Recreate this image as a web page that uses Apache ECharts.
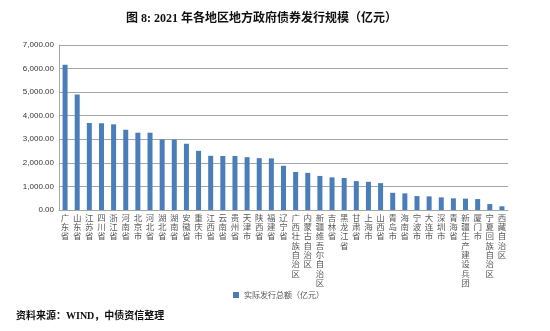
<!DOCTYPE html>
<html><head><meta charset="utf-8">
<script src="https://cdn.jsdelivr.net/npm/echarts@6/dist/echarts.min.js"></script>
<style>html,body{margin:0;padding:0;background:#fff}#c{width:550px;height:331px}</style>
</head><body><div id="c"></div>
<script>
var categories = ['广东省','山东省','江苏省','四川省','浙江省','河南省','北京市','河北省','湖北省','湖南省','安徽省','重庆市','江西省','云南省','贵州省','天津市','陕西省','福建省','辽宁省','广西壮族自治区','内蒙古自治区','新疆维吾尔自治区','吉林省','黑龙江省','甘肃省','上海市','山西省','青岛市','海南省','宁波市','大连市','深圳市','青海省','新疆生产建设兵团','厦门市','宁夏回族自治区','西藏自治区'];
var values = [6160,4900,3690,3680,3635,3405,3280,3280,2995,2990,2810,2510,2300,2290,2290,2240,2200,2190,1875,1615,1575,1445,1385,1360,1225,1195,1140,730,705,590,578,536,494,481,464,253,156];
var yTicks = [0,1000,2000,3000,4000,5000,6000,7000];
var seriesName = '实际发行总额（亿元）';
var titleText = '图 8: 2021 年各地区地方政府债券发行规模（亿元）';
var sourceText = '资料来源：WIND，中债资信整理';

var chart = echarts.init(document.getElementById('c'));
var cjk = '"Liberation Serif", "Noto Sans CJK SC", serif';
var cjkSans = '"Noto Sans CJK SC", sans-serif';
chart.setOption({
  animation: false,
  title: { text: titleText, left: 121, top: 8,
    textStyle: { fontSize: 12, fontWeight: 'bold', color: '#111', fontFamily: cjk } },
  legend: { data: [seriesName], left: 228, top: 286, itemWidth: 6, itemHeight: 6, itemGap: 4,
    icon: 'rect', textStyle: { fontSize: 8, color: '#555', fontFamily: cjkSans } },
  graphic: [{ type: 'text', left: 16, top: 311,
    style: { text: sourceText, fontSize: 10, fontWeight: 'bold', fill: '#111', fontFamily: cjk } }],
  grid: { left: 59, right: 42, top: 45, bottom: 121, containLabel: false },
  xAxis: { type: 'category', data: categories,
    axisLine: { show: true, lineStyle: { color: '#a6a6a6', width: 1 } },
    axisTick: { show: false },
    axisLabel: { interval: 0, margin: 3, fontSize: 8.5, lineHeight: 9.3, color: '#595959', fontFamily: cjkSans,
      verticalAlign: 'top',
      formatter: function (v) { return v.split('').join('\n'); } } },
  yAxis: { type: 'value', min: yTicks[0], max: yTicks[yTicks.length-1], interval: 1000,
    axisLine: { show: true, lineStyle: { color: '#a6a6a6', width: 1 } },
    axisTick: { show: false },
    splitLine: { lineStyle: { color: '#a6a6a6', width: 1 } },
    axisLabel: { fontSize: 8, color: '#333', margin: 5, fontFamily: '"Liberation Sans", Arial, sans-serif',
      formatter: function (v) { return v.toLocaleString('en-US', { minimumFractionDigits: 2, maximumFractionDigits: 2 }); } } },
  series: [{ name: seriesName, type: 'bar', data: values, barWidth: 5,
    itemStyle: { color: '#4a7ebb' } }]
});
</script></body></html>
